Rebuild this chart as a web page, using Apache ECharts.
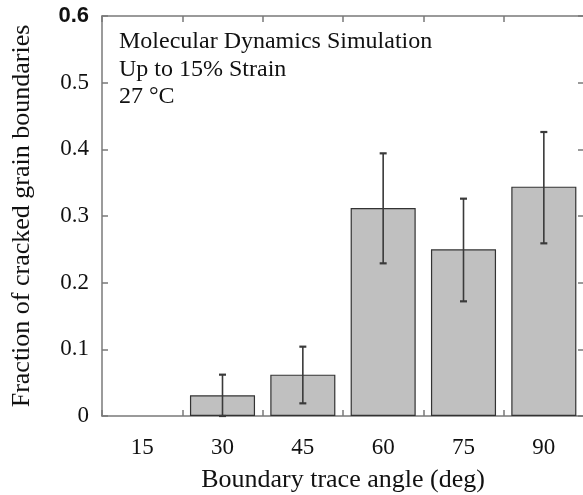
<!DOCTYPE html>
<html><head><meta charset="utf-8">
<script src="https://cdn.jsdelivr.net/npm/echarts@6/dist/echarts.min.js"></script>
<style>html,body{margin:0;padding:0;background:#fff}#c{width:583px;height:495px}</style>
</head><body><div id="c"></div>
<script>
var categories = ['15', '30', '45', '60', '75', '90'];
var fractions = [0, 0.031, 0.062, 0.312, 0.250, 0.344];
var errLow = [0, 0, 0.019, 0.229, 0.172, 0.259];
var errHigh = [0, 0.062, 0.104, 0.394, 0.326, 0.426];
var yTicks = [0, 0.1, 0.2, 0.3, 0.4, 0.5, 0.6];
var noteLines = ['Molecular Dynamics Simulation', 'Up to 15% Strain', '27 °C'];

var FONT = 'Liberation Serif';
var axisCol = '#7a7a7a';
var chart = echarts.init(document.getElementById('c'), null, {renderer: 'canvas'});
var errData = [];
for (var i = 0; i < categories.length; i++) {
  if (errHigh[i] > errLow[i]) errData.push([i, errLow[i], errHigh[i]]);
}
var barData = fractions.map(function (v) {
  return v === 0 ? {value: v, itemStyle: {borderWidth: 0}} : v;
});
var lineSt = {show: true, onZero: false, lineStyle: {color: axisCol, width: 1.5}};
var tickSt = {show: true, inside: true, length: 6, lineStyle: {color: axisCol, width: 1.5}};

chart.setOption({
  animation: false,
  textStyle: {fontFamily: FONT},
  grid: {left: 102, top: 16, width: 482, height: 400, containLabel: false, outerBoundsMode: 'none'},
  xAxis: [{
    type: 'category', data: categories, position: 'bottom',
    axisLine: lineSt, axisTick: tickSt,
    axisLabel: {color: '#111', fontFamily: FONT, fontSize: 23, margin: 20},
    name: 'Boundary trace angle (deg)', nameLocation: 'middle', nameGap: 51,
    nameTextStyle: {color: '#111', fontFamily: FONT, fontSize: 26}
  }, {
    type: 'category', data: categories, position: 'top',
    axisLine: lineSt, axisTick: tickSt,
    axisLabel: {show: false}
  }],
  yAxis: [{
    type: 'value', min: 0, max: 0.6, interval: 0.1, position: 'left',
    axisLine: lineSt, axisTick: tickSt,
    splitLine: {show: false},
    axisLabel: {color: '#111', fontFamily: FONT, fontSize: 23, margin: 13,
      formatter: function (v) {
        var k = yTicks.indexOf(Math.round(v * 10) / 10);
        if (k < 0) return '';
        return k === yTicks.length - 1 ? '{top|' + yTicks[k] + '}' : String(yTicks[k]);
      },
      rich: {top: {fontFamily: 'Liberation Sans', fontWeight: 'bold', fontSize: 22, color: '#111'}}},
    name: 'Fraction of cracked grain boundaries', nameLocation: 'middle', nameGap: 67, nameRotate: 90,
    nameTextStyle: {color: '#111', fontFamily: FONT, fontSize: 26}
  }, {
    type: 'value', min: 0, max: 0.6, interval: 0.1, position: 'right',
    axisLine: lineSt, axisTick: tickSt,
    splitLine: {show: false},
    axisLabel: {show: false}
  }],
  series: [{
    type: 'bar', data: barData, barWidth: '81%', xAxisIndex: 0, yAxisIndex: 0,
    itemStyle: {color: '#c0c0c0', borderColor: '#333', borderWidth: 1.2}
  }, {
    type: 'custom', xAxisIndex: 0, yAxisIndex: 0, data: errData, z: 10,
    renderItem: function (params, api) {
      var x = api.value(0);
      var lo = api.coord([x, api.value(1)]);
      var hi = api.coord([x, api.value(2)]);
      var w = 3.5;
      var st = {stroke: '#3a3a3a', lineWidth: 1.6};
      var cap = {stroke: '#3a3a3a', lineWidth: 2.2};
      return {type: 'group', children: [
        {type: 'line', shape: {x1: hi[0], y1: hi[1], x2: lo[0], y2: lo[1]}, style: st},
        {type: 'line', shape: {x1: hi[0] - w, y1: hi[1], x2: hi[0] + w, y2: hi[1]}, style: cap},
        {type: 'line', shape: {x1: lo[0] - w, y1: lo[1], x2: lo[0] + w, y2: lo[1]}, style: cap}
      ]};
    }
  }],
  graphic: noteLines.map(function (t, i) {
    return {type: 'text', left: 119, top: 30 + i * 27.5,
      style: {text: t, fill: '#111', fontFamily: FONT, fontSize: 24}};
  })
});
</script></body></html>
